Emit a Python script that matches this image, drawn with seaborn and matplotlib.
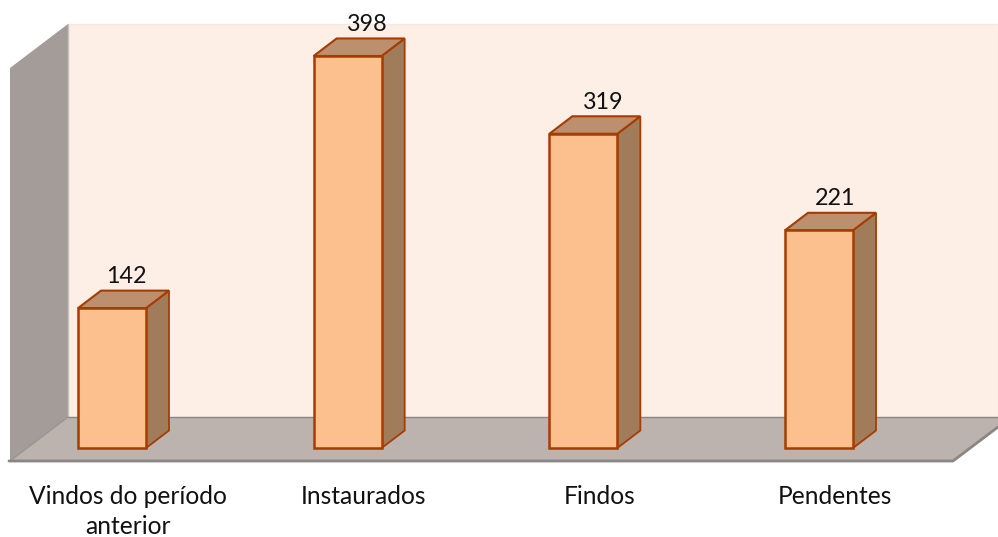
import matplotlib
matplotlib.use('Agg')
import matplotlib.pyplot as plt
import seaborn as sns
from matplotlib.patches import Polygon

#%% Daten
categorias = ['Vindos do período\nanterior', 'Instaurados', 'Findos', 'Pendentes']
valores = [142, 398, 319, 221]

#%% Layout (Pixel)
W, H = 998, 537
px_x0 = 112.0      # Mitte erster Balken
px_step = 235.67
px_y0 = 448.0      # Balkenfuss
px_per_val = 0.985
px_floor = 461     # Unterkante Boden
bar_w = 68 / px_step
depth_x = 23 / px_step
depth_y = 17.5 / px_per_val
label_dx = [14, 20, 20, 16]
tick_dx = 16

sns.set_theme(style='white')
plt.rcParams['font.family'] = ['Lato', 'DejaVu Sans']

fig = plt.figure(figsize=(W / 100, H / 100), dpi=100, facecolor='white')

#%% Wände und Boden
bg = fig.add_axes([0, 0, 1, 1])
bg.set_xlim(0, W)
bg.set_ylim(H, 0)
bg.axis('off')
bg.add_patch(Polygon([(68, 24), (998, 24), (998, 417), (68, 417)], fc='#FDEEE6', ec='#F7E8E1', lw=1))
bg.add_patch(Polygon([(10, 68), (68, 24), (68, 417), (10, 461)], fc='#A39C98', ec='none'))
bg.plot([68, 68], [24, 417], color='#C9C3BF', lw=1)
bg.add_patch(Polygon([(10, 461), (68, 417), (998, 417), (998, 427), (953, 461)], fc='#BCB2AE', ec='none'))
bg.plot([68, 998], [417, 417], color='#8A8684', lw=1)
bg.plot([10, 68], [461, 417], color='#999592', lw=1)
bg.plot([998, 953, 9], [427, 461, 461], color='#8A8684', lw=2)

#%% Balken
ax = fig.add_axes([0, 1 - px_floor / H, 1, px_floor / H])
ax.patch.set_alpha(0)
sns.barplot(x=categorias, y=valores, ax=ax, color='#FCC08E', saturation=1,
            width=bar_w, edgecolor='#A63C00', linewidth=1.8, zorder=3)
ax.set_xlim(-px_x0 / px_step, (W - px_x0) / px_step)
ax.set_ylim((px_y0 - px_floor) / px_per_val, px_y0 / px_per_val)
sns.despine(ax=ax, left=True, bottom=True)
ax.set_yticks([])
ax.tick_params(axis='x', length=0, pad=17, labelsize=17.7, labelcolor='#111111')
for s in ax.spines.values():
    s.set_visible(False)

# Seiten- und Deckfläche aus den Balken ableiten
for i, bar in enumerate(ax.patches):
    x0, x1 = bar.get_x(), bar.get_x() + bar.get_width()
    h = bar.get_height()
    ax.add_patch(Polygon([(x1, 0), (x1 + depth_x, depth_y), (x1 + depth_x, h + depth_y), (x1, h)],
                         fc='#A17C5B', ec='#A63C00', lw=1.3, zorder=2, clip_on=False))
    ax.add_patch(Polygon([(x0, h), (x0 + depth_x, h + depth_y), (x1 + depth_x, h + depth_y), (x1, h)],
                         fc='#BC8F6E', ec='#A63C00', lw=1.5, zorder=2, clip_on=False))
    ax.text(i + label_dx[i] / px_step, h + depth_y + 3.5, str(valores[i]), ha='center', va='bottom',
            fontsize=16.8, color='#111111', clip_on=False)

# Tick-Labels etwas nach rechts
for lab in ax.get_xticklabels():
    lab.set_linespacing(1.39)
    lab.set_transform(lab.get_transform() + matplotlib.transforms.Affine2D().translate(tick_dx, 0))

fig.savefig('out.png', dpi=100)
